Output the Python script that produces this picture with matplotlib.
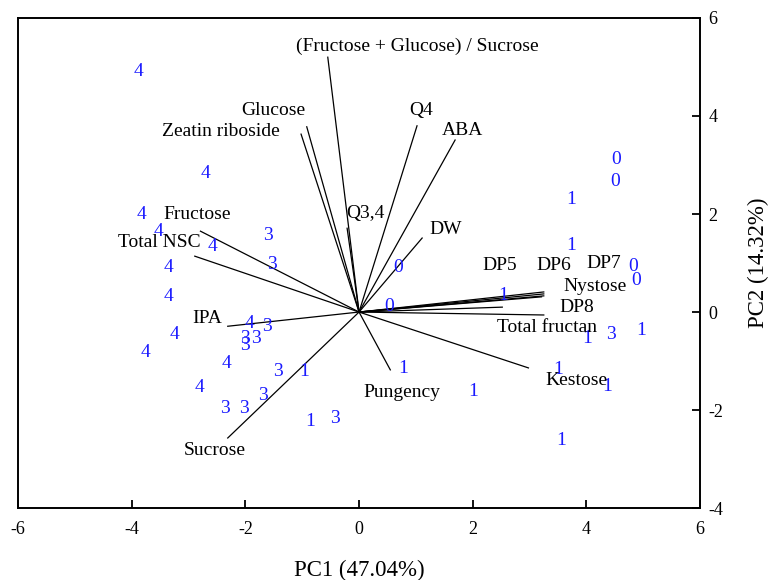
import numpy as np
import matplotlib.pyplot as plt

plt.rcParams['font.family'] = ['Liberation Serif', 'DejaVu Serif']
plt.rcParams['axes.unicode_minus'] = False

# sample scores (PC1, PC2), grouped by the label drawn at each point
groups = ['0', '1', '3', '4']
pc1 = {
    '0': [4.53, 4.51, 4.83, 4.87, 0.69, 0.53],
    '1': [-0.97, -0.86, 0.78, 2.01, 2.54, 3.74, 3.74, 4.02, 4.97, 3.51, 4.36, 3.56],
    '3': [-1.60, -1.53, -1.62, -2.01, -2.01, -1.82, -1.43, -1.69, -2.36, -2.03, -0.42, 4.44],
    '4': [-3.88, -2.70, -3.83, -3.53, -2.57, -3.35, -3.35, -3.25, -3.76, -1.92, -2.33, -2.80],
}
pc2 = {
    '0': [3.12, 2.67, 0.92, 0.65, 0.90, 0.12],
    '1': [-1.22, -2.24, -1.16, -1.63, 0.33, 2.29, 1.35, -0.55, -0.37, -1.18, -1.51, -2.63],
    '3': [1.57, 0.98, -0.29, -0.55, -0.69, -0.55, -1.22, -1.71, -1.96, -1.96, -2.18, -0.45],
    '4': [4.90, 2.82, 2.00, 1.65, 1.33, 0.90, 0.31, -0.45, -0.82, -0.24, -1.04, -1.53],
}

# variable loadings (scaled)
variables = ['(Fructose + Glucose) / Sucrose', 'Glucose', 'Zeatin riboside', 'Q4',
             'ABA', 'Q3,4', 'DW', 'DP5', 'DP6', 'DP7', 'Nystose', 'DP8',
             'Total fructan', 'Kestose', 'Pungency', 'Sucrose', 'IPA',
             'Total NSC', 'Fructose']
load1 = [-0.55, -0.92, -1.02, 1.02, 1.69, -0.21, 1.11, 3.21, 3.25, 3.25, 3.25,
         2.52, 3.25, 2.98, 0.55, -2.31, -2.31, -2.89, -2.79]
load2 = [5.20, 3.78, 3.63, 3.80, 3.51, 1.71, 1.51, 0.31, 0.33, 0.37, 0.41,
         0.10, -0.06, -1.14, -1.18, -2.57, -0.29, 1.14, 1.65]

# where each variable name is written
label_pos = [(1.02, 5.43), (-1.50, 4.12), (-2.43, 3.69), (1.09, 4.12),
             (1.82, 3.71), (0.11, 2.02), (1.52, 1.69), (2.48, 0.95),
             (3.42, 0.95), (4.30, 0.99), (4.16, 0.52), (3.83, 0.10),
             (3.30, -0.31), (3.83, -1.39), (0.76, -1.65), (-2.54, -2.82),
             (-2.68, -0.14), (-3.51, 1.41), (-2.84, 2.00)]

fig = plt.figure(figsize=(7.69, 5.80), dpi=100)
ax = fig.add_axes([0.0234, 0.124, 0.887, 0.845])

for g in groups:
    for x, y in zip(pc1[g], pc2[g]):
        ax.text(x, y, g, color='#1a1aff', fontsize=14, ha='center', va='center')

for name, x, y, (lx, ly) in zip(variables, load1, load2, label_pos):
    ax.plot([0, x], [0, y], color='black', lw=0.9)
    ax.text(lx, ly, name, fontsize=14, ha='center', va='center')

ax.set_xlim(-6, 6)
ax.set_ylim(-4, 6)
ax.set_xticks(np.arange(-6, 7, 2))
ax.set_yticks(np.arange(-4, 7, 2))
ax.yaxis.tick_right()
ax.yaxis.set_label_position('right')
ax.tick_params(direction='in', length=6, width=1.3, labelsize=13, pad=9)
ax.tick_params(axis='y', pad=6)
for s in ax.spines.values():
    s.set_linewidth(1.4)

ax.set_xlabel('PC1 (47.04%)', fontsize=16.5, labelpad=16)
ax.set_ylabel('PC2 (14.32%)', fontsize=16.5, labelpad=18, rotation=90)

fig.savefig('out.png', dpi=100)
